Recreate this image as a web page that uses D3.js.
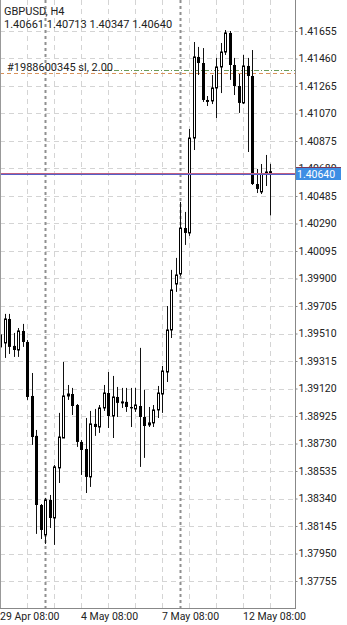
<!DOCTYPE html>
<html>
<head>
<meta charset="utf-8">
<script src="https://cdn.jsdelivr.net/npm/d3@7/dist/d3.min.js"></script>
<style>
  html, body { margin: 0; padding: 0; background: #fff; }
  svg { display: block; font-family: Roboto, 'Noto Sans', sans-serif; }
</style>
</head>
<body>
<div id="chart"></div>
<script>
// GBPUSD H4 bars, oldest first
var opens  = [1.39415,1.39443,1.39613,1.39422,1.39393,1.39528,1.39450,1.39067,1.38784,1.38294,
              1.38082,1.38330,1.38202,1.38557,1.38769,1.39067,1.39081,1.39003,1.38741,1.38691,
              1.38493,1.38869,1.38847,1.38982,1.39088,1.38925,1.39060,1.39018,1.39025,1.38989,
              1.38975,1.38996,1.38918,1.38862,1.38876,1.38968,1.39081,1.39237,1.39535,1.39861,
              1.39932,1.40258,1.40223,1.40896,1.41471,1.41428,1.41166,1.41159,1.41251,1.41400,
              1.41506,1.41641,1.41414,1.41265,1.41145,1.41407,1.41336,1.40570,1.40514,1.40645,
              1.40661];
var highs  = [1.39549,1.39649,1.39649,1.39514,1.39549,1.39578,1.39464,1.39230,1.38826,1.38301,
              1.38344,1.38365,1.38578,1.38947,1.39308,1.39145,1.39124,1.39010,1.38755,1.38911,
              1.38961,1.38975,1.39003,1.39145,1.39237,1.39209,1.39131,1.39124,1.39124,1.39124,
              1.39124,1.39408,1.39110,1.38989,1.39003,1.39138,1.39280,1.39705,1.39961,1.40046,
              1.40443,1.40372,1.40960,1.41577,1.41542,1.41534,1.41194,1.41343,1.41464,1.41570,
              1.41662,1.41655,1.41464,1.41350,1.41485,1.41464,1.41520,1.40677,1.40712,1.40776,
              1.40713];
var lows   = [1.39379,1.39337,1.39365,1.39344,1.39344,1.39415,1.39039,1.38720,1.38089,1.38053,
              1.38018,1.38131,1.38011,1.38450,1.38769,1.39039,1.38932,1.38706,1.38507,1.38379,
              1.38422,1.38784,1.38805,1.38961,1.38840,1.38769,1.38918,1.38982,1.38954,1.38847,
              1.38954,1.38564,1.38628,1.38847,1.38847,1.38911,1.38947,1.39166,1.39478,1.39805,
              1.39918,1.40138,1.40202,1.40811,1.41343,1.41152,1.41123,1.41137,1.41038,1.41215,
              1.41485,1.41308,1.41201,1.41074,1.41137,1.40797,1.40563,1.40506,1.40499,1.40556,
              1.40347];
var closes = [1.39500,1.39613,1.39415,1.39393,1.39528,1.39450,1.39060,1.38776,1.38294,1.38117,
              1.38330,1.38202,1.38564,1.38776,1.39067,1.39081,1.38996,1.38741,1.38684,1.38493,
              1.38869,1.38847,1.38982,1.39088,1.38925,1.39060,1.39018,1.39025,1.38989,1.38979,
              1.39003,1.38918,1.38854,1.38876,1.38968,1.39088,1.39244,1.39535,1.39819,1.39925,
              1.40258,1.40223,1.40896,1.41471,1.41428,1.41166,1.41152,1.41251,1.41400,1.41506,
              1.41641,1.41414,1.41265,1.41145,1.41407,1.41336,1.40570,1.40535,1.40641,1.40655,
              1.40640];

var priceTicks = [1.41655,1.41460,1.41265,1.41070,1.40875,1.40680,1.40485,1.40290,1.40095,1.39900,
                  1.39705,1.39510,1.39315,1.39120,1.38925,1.38730,1.38535,1.38340,1.38145,1.37950,1.37755];
var dateLabels = ['29 Apr 08:00', '4 May 08:00', '7 May 08:00', '12 May 08:00'];
var dateBars   = [0, 18, 36, 54];
var gridBars   = [6, 12, 18, 24, 30, 36, 42, 48, 54, 60];
var weekBars   = [10, 40];

var symbol = 'GBPUSD, H4';
var orderText = '#1988600345 sl, 2.00';
var orderPrice = 1.41378;
var slPrice = 1.41357;

var width = 347, height = 625;
var plotRight = 295, plotBottom = 608;

var svg = d3.select('#chart').append('svg')
  .attr('width', width)
  .attr('height', height);

var x = d3.scaleLinear().domain([0, 60]).range([0, 270]);
var y = d3.scaleLinear().domain([1.37755, 1.41655]).range([581, 31]);

// grid
svg.selectAll('line.hgrid')
  .data(priceTicks)
  .enter().append('line')
  .attr('class', 'hgrid')
  .attr('x1', 0).attr('x2', plotRight)
  .attr('y1', function(d) { return Math.round(y(d)) + 0.5; })
  .attr('y2', function(d) { return Math.round(y(d)) + 0.5; })
  .style('stroke', '#d4d4d4')
  .style('stroke-dasharray', '5,4');

svg.selectAll('line.vgrid')
  .data(gridBars)
  .enter().append('line')
  .attr('class', 'vgrid')
  .attr('x1', function(d) { return Math.round(x(d)) + 0.5; })
  .attr('x2', function(d) { return Math.round(x(d)) + 0.5; })
  .attr('y1', 0).attr('y2', plotBottom)
  .style('stroke', '#d4d4d4')
  .style('stroke-dasharray', '5,4');

svg.selectAll('line.week')
  .data(weekBars)
  .enter().append('line')
  .attr('class', 'week')
  .attr('x1', function(d) { return Math.round(x(d)) + 0.5; })
  .attr('x2', function(d) { return Math.round(x(d)) + 0.5; })
  .attr('y1', 0).attr('y2', plotBottom)
  .style('stroke', '#909090')
  .style('stroke-width', 2)
  .style('stroke-dasharray', '3,3');

// order / sl lines
svg.append('line')
  .attr('x1', 0).attr('x2', plotRight)
  .attr('y1', Math.round(y(slPrice)) + 0.5).attr('y2', Math.round(y(slPrice)) + 0.5)
  .style('stroke', '#d9925a')
  .style('stroke-dasharray', '4,3');

svg.append('line')
  .attr('x1', 104).attr('x2', plotRight)
  .attr('y1', Math.round(y(orderPrice)) + 0.5).attr('y2', Math.round(y(orderPrice)) + 0.5)
  .style('stroke', '#6a9a5a')
  .style('stroke-dasharray', '5,2,1,2');

svg.append('text')
  .text(orderText)
  .attr('x', 7).attr('y', Math.round(y(orderPrice)) + 1)
  .style('font-size', '11px')
  .style('fill', '#222');

// candles
var bars = d3.range(opens.length);
var candle = svg.selectAll('g.candle')
  .data(bars)
  .enter().append('g')
  .attr('class', 'candle');

candle.append('line')
  .attr('x1', function(i) { return Math.round(x(i)) + 0.5; })
  .attr('x2', function(i) { return Math.round(x(i)) + 0.5; })
  .attr('y1', function(i) { return y(highs[i]); })
  .attr('y2', function(i) { return y(lows[i]); })
  .style('stroke', '#111')
  .style('stroke-width', 1);

candle.append('rect')
  .attr('x', function(i) { return closes[i] >= opens[i] ? Math.round(x(i)) - 0.5 : Math.round(x(i)) - 1; })
  .attr('width', function(i) { return closes[i] >= opens[i] ? 2 : 3; })
  .attr('y', function(i) { return y(Math.max(opens[i], closes[i])); })
  .attr('height', function(i) { return Math.max(1, Math.abs(y(opens[i]) - y(closes[i]))); })
  .style('fill', function(i) { return closes[i] >= opens[i] ? '#fff' : '#000'; })
  .style('stroke', function(i) { return closes[i] >= opens[i] ? '#000' : 'none'; })
  .style('stroke-width', 1);

// current price lines
var last = closes[closes.length - 1];
var ly = Math.round(y(last));
svg.append('line')
  .attr('x1', 0).attr('x2', plotRight)
  .attr('y1', ly - 0.5).attr('y2', ly - 0.5)
  .style('stroke', '#c06080');
svg.append('line')
  .attr('x1', 0).attr('x2', plotRight)
  .attr('y1', ly + 0.5).attr('y2', ly + 0.5)
  .style('stroke', '#5560c8');

// frame
svg.append('line')
  .attr('x1', 0.5).attr('x2', 0.5).attr('y1', 0).attr('y2', plotBottom)
  .style('stroke', '#999');
svg.append('line')
  .attr('x1', plotRight + 0.5).attr('x2', plotRight + 0.5).attr('y1', 0).attr('y2', plotBottom)
  .style('stroke', '#888');
svg.append('line')
  .attr('x1', 0).attr('x2', plotRight + 1).attr('y1', plotBottom + 0.5).attr('y2', plotBottom + 0.5)
  .style('stroke', '#888');

// right price axis
var axis = d3.axisRight(y)
  .tickValues(priceTicks)
  .tickSize(2)
  .tickPadding(1)
  .tickFormat(d3.format('.5f'));
var ax = svg.append('g')
  .attr('transform', 'translate(' + (plotRight + 0.5) + ',0)')
  .call(axis);
ax.select('.domain').remove();
ax.selectAll('line').style('stroke', '#888');
ax.selectAll('text')
  .style('font-size', '10.5px')
  .style('font-family', 'Roboto, sans-serif')
  .style('fill', '#222');

// current price box
svg.append('rect')
  .attr('x', plotRight + 1).attr('y', ly - 6)
  .attr('width', 45).attr('height', 12)
  .style('fill', '#3d8ee4');
svg.append('line')
  .attr('x1', plotRight + 1).attr('x2', plotRight + 46)
  .attr('y1', ly - 6.5).attr('y2', ly - 6.5)
  .style('stroke', '#7a3a5a');
svg.append('text')
  .text(last.toFixed(5))
  .attr('x', plotRight + 2).attr('y', ly + 4)
  .style('font-size', '10.5px')
  .style('fill', '#fff');

// date labels
svg.selectAll('text.date')
  .data(dateBars)
  .enter().append('text')
  .attr('class', 'date')
  .attr('x', function(d) { return x(d); })
  .attr('y', 620)
  .text(function(d, i) { return dateLabels[i]; })
  .style('font-size', '10.5px')
  .style('fill', '#222');

// header
svg.append('text')
  .text(symbol)
  .attr('x', 4).attr('y', 15)
  .style('font-size', '11px')
  .style('fill', '#222');
var n = opens.length - 1;
svg.append('text')
  .text([opens[n], highs[n], lows[n], closes[n]].map(function(v) { return v.toFixed(5); }).join(' '))
  .attr('x', 4).attr('y', 28)
  .style('font-size', '11px')
  .style('fill', '#222');
</script>
</body>
</html>
